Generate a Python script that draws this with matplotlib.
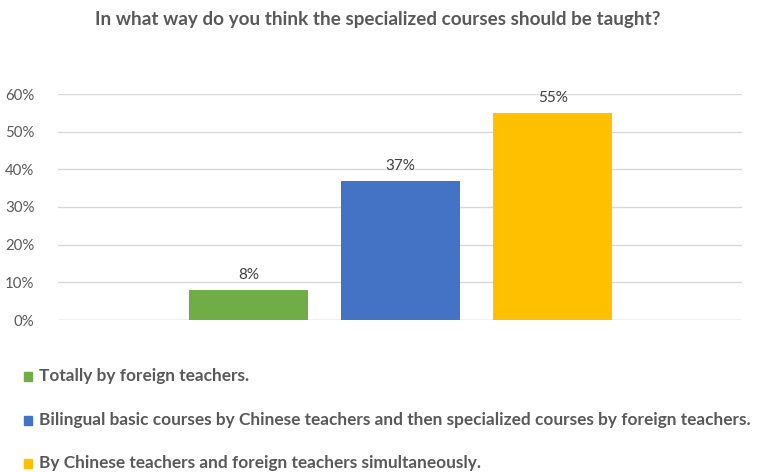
import matplotlib
matplotlib.use("Agg")
import matplotlib.pyplot as plt
from matplotlib.ticker import FuncFormatter

plt.rcParams['font.family'] = ['Lato', 'DejaVu Sans']

title = "In what way do you think the specialized courses should be taught?"
labels = [
    "Totally by foreign teachers.",
    "Bilingual basic courses by Chinese teachers and then specialized courses by foreign teachers.",
    "By Chinese teachers and foreign teachers simultaneously.",
]
values = [8, 37, 55]
colors = ["#70AD47", "#4472C4", "#FFC000"]
yticks = [0, 10, 20, 30, 40, 50, 60]

W, H = 757, 472
fig = plt.figure(figsize=(W / 100, H / 100), dpi=100)
ax = fig.add_axes([58 / W, (H - 320) / H, (742 - 58) / W, 226 / H])

positions = [-1, 0, 1]
for x, v, c in zip(positions, values, colors):
    ax.bar(x, v, width=0.785, color=c, zorder=3)
    ax.text(x, v + 2.0, f"{v}%", ha="center", va="bottom",
            fontsize=11, color="#404040", zorder=4)

ax.set_xlim(-2.255, 2.245)
ax.set_ylim(0, 60)
ax.set_yticks(yticks)
ax.yaxis.set_major_formatter(FuncFormatter(lambda v, _: f"{v:.0f}%"))
ax.tick_params(axis="y", length=0, pad=17, labelsize=10.8, labelcolor="#595959")
ax.set_xticks([])
ax.grid(axis="y", color="#D9D9D9", linewidth=1.0, zorder=0)
for s in ax.spines.values():
    s.set_visible(False)
ax.axhline(0, color="#D9D9D9", linewidth=1.0, zorder=1)

fig.text(378 / W, 1 - 19 / H, title, ha="center", va="center",
         fontsize=13.6, fontweight="bold", color="#595959")

# legend entries stacked at the bottom
rows_y = [376, 420, 463]
for lab, c, y in zip(labels, colors, rows_y):
    fig.patches.append(plt.Rectangle((24 / W, 1 - (y + 4.5) / H), 8 / W, 9 / H,
                                     transform=fig.transFigure, color=c))
    fig.text(39 / W, 1 - y / H, lab, ha="left", va="center",
             fontsize=12.4, fontweight="bold", color="#595959")

fig.savefig("out.png", dpi=100, facecolor="white")
